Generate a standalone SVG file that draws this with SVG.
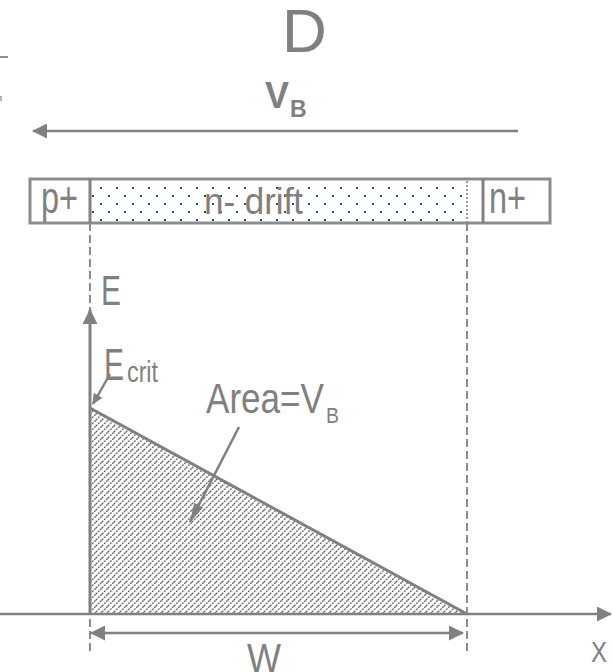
<svg xmlns="http://www.w3.org/2000/svg" width="612" height="672" viewBox="0 0 612 672">
<style>
text{font-family:"Liberation Sans",Arial,sans-serif;fill:#808080}
.ln{stroke:#808080;fill:none}
.dash{stroke:#8c8c8c;stroke-width:2;stroke-dasharray:8 4;fill:none}
</style>
<defs>
<marker id="ah" viewBox="0 0 15 15" refX="14" refY="7.5" markerWidth="15" markerHeight="15" markerUnits="userSpaceOnUse" orient="auto-start-reverse">
<path d="M0,0 L15,7.5 L0,15 Z" fill="#808080"/>
</marker>
<marker id="ahs" viewBox="0 0 11 10" refX="10" refY="5" markerWidth="11" markerHeight="10" markerUnits="userSpaceOnUse" orient="auto">
<path d="M0,0 L11,5 L0,10 Z" fill="#808080"/>
</marker>
<marker id="ahl" viewBox="0 0 20 10" refX="19" refY="5" markerWidth="20" markerHeight="10" markerUnits="userSpaceOnUse" orient="auto">
<path d="M0,0 L20,5 L0,10 Z" fill="#808080"/>
</marker>
<pattern id="dots" patternUnits="userSpaceOnUse" x="100" y="187" width="16" height="16">
<rect x="0" y="0" width="2" height="2" fill="#0b5e6e"/>
<rect x="8" y="8" width="2" height="2" fill="#0b5e6e"/>
</pattern>
<pattern id="hatch" patternUnits="userSpaceOnUse" width="6" height="6">
<path d="M-1,1 L1,-1 M0,6 L6,0 M5,7 L7,5" stroke="#666666" stroke-width="1.3" stroke-dasharray="2 1"/>
</pattern>
</defs>
<rect width="612" height="672" fill="#ffffff"/>

<g id="fragment">
<line x1="0" y1="57" x2="8" y2="57" stroke="#909090" stroke-width="2"/>
<rect x="0" y="96" width="2" height="5" fill="#b0b0b0"/>
</g>

<g id="title-D"><text x="282" y="52" font-size="62">D</text></g>
<g id="label-VB">
<text x="265" y="108" font-size="36" font-weight="bold">V</text>
<text x="290" y="117" font-size="23" font-weight="bold">B</text>
</g>

<g id="device">
<rect x="30" y="179" width="520" height="44" fill="#ffffff" stroke="#8c8c8c" stroke-width="3"/>
<rect x="91" y="181" width="376" height="41" fill="url(#dots)"/>
<line x1="90" y1="179" x2="90" y2="223" class="ln" stroke-width="3"/>
<line x1="483" y1="179" x2="483" y2="223" class="ln" stroke-width="3"/>
<line x1="467" y1="181" x2="467" y2="222" stroke="#9a9a9a" stroke-width="2" stroke-dasharray="2 2"/>
</g>
<g id="p-plus"><text x="41" y="213" font-size="44" textLength="37" lengthAdjust="spacingAndGlyphs">p+</text></g>
<g id="n-drift"><text x="204" y="214" font-size="36" textLength="99" lengthAdjust="spacingAndGlyphs">n- drift</text></g>
<g id="n-plus"><text x="489" y="213" font-size="44" textLength="37" lengthAdjust="spacingAndGlyphs">n+</text></g>

<g id="field-triangle">
<polygon points="90,408 90,614 467,614" fill="url(#hatch)"/>
<line x1="90" y1="408" x2="467" y2="614" class="ln" stroke-width="3"/>
</g>

<g id="labels">
<text x="101" y="305" font-size="42" textLength="20" lengthAdjust="spacingAndGlyphs">E</text>
<text x="104" y="380" font-size="44" textLength="20" lengthAdjust="spacingAndGlyphs">E</text>
<text x="127" y="382" font-size="30" textLength="31" lengthAdjust="spacingAndGlyphs">crit</text>
<text x="206" y="413" font-size="42" textLength="118" lengthAdjust="spacingAndGlyphs">Area=V</text>
<text x="326" y="423" font-size="22" textLength="13" lengthAdjust="spacingAndGlyphs">B</text>
<text x="247" y="672" font-size="40" textLength="34" lengthAdjust="spacingAndGlyphs">W</text>
<text x="591" y="662" font-size="29" textLength="16" lengthAdjust="spacingAndGlyphs">X</text>
</g>

<g id="connectors">
<line x1="90" y1="223" x2="90" y2="654" class="dash"/>
<line x1="467" y1="223" x2="467" y2="654" class="dash"/>
<line x1="518" y1="131" x2="33" y2="131" class="ln" stroke-width="2.5" marker-end="url(#ah)"/>
<line x1="90" y1="614" x2="90" y2="310" class="ln" stroke-width="3" marker-end="url(#ah)"/>
<line x1="0" y1="614" x2="611" y2="614" class="ln" stroke-width="2.5" marker-end="url(#ah)"/>
<line x1="91" y1="633" x2="463" y2="633" class="ln" stroke-width="2.5" marker-start="url(#ah)" marker-end="url(#ah)"/>
<line x1="110" y1="374" x2="93" y2="404" class="ln" stroke-width="2.5" marker-end="url(#ahs)"/>
<line x1="239" y1="427" x2="190" y2="522" class="ln" stroke-width="2.5" marker-end="url(#ahl)"/>
</g>
</svg>
